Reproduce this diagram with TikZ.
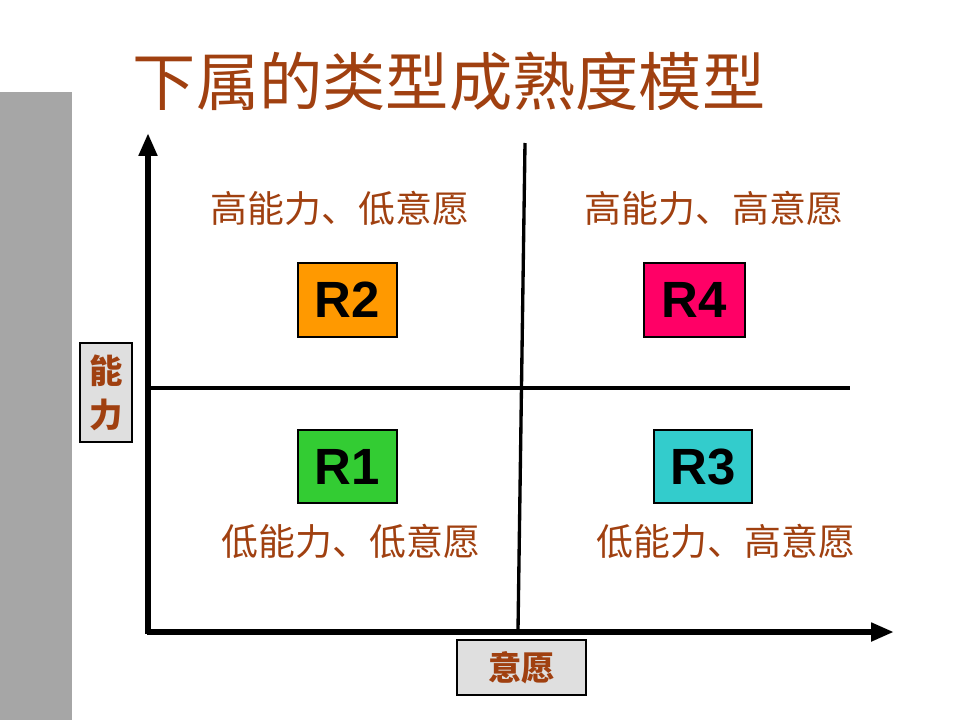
\documentclass[tikz,border=0pt]{standalone}
\usepackage{fontspec}
\setmainfont{Liberation Sans}
\newfontfamily\cjk{Noto Sans CJK SC}
\definecolor{QuadBrown}{RGB}{160,64,16}
\definecolor{QuadGray}{RGB}{166,166,166}
\definecolor{QuadOrange}{RGB}{255,153,0}
\definecolor{QuadPink}{RGB}{255,0,102}
\definecolor{QuadGreen}{RGB}{51,204,51}
\definecolor{QuadCyan}{RGB}{51,204,204}
\usetikzlibrary{arrows.meta}

\begin{document}
\begin{tikzpicture}[
    x=0.02cm, y=-0.02cm,
    level/.style={rectangle, draw=black, line width=0.6pt, font=\fontsize{29}{30}\selectfont\bfseries, text=black},
    quad/.style={font=\cjk\fontsize{21}{24}\selectfont, text=QuadBrown},
    axlabel/.style={rectangle, draw=black, line width=0.6pt, fill=gray!25, font=\cjk\fontsize{19}{22}\selectfont\bfseries, text=QuadBrown},
    axis/.style={line width=3.4pt, -{Triangle[length=13pt,width=10pt]}},
    divider/.style={line width=1.9pt}
]
    \useasboundingbox (0,0) rectangle (960,720);
    \fill[QuadGray] (0,92) rectangle (72,720);
    \node[font=\cjk\fontsize{36}{40}\selectfont, text=QuadBrown] (title) at (449,82) {下属的类型成熟度模型};
    % axes
    \coordinate (origin) at (148,632);
    \coordinate (ytop) at (148,133);
    \coordinate (xend) at (894,632);
    \draw[axis] (origin) ++(0,1.5) -- (ytop);
    \draw[axis] (origin) ++(-1.5,0) -- (xend);
    % quadrant lines
    \coordinate (vtop) at (525,143);
    \coordinate (vbot) at (518,630);
    \coordinate (hleft) at (148,388);
    \coordinate (hright) at (850,388);
    \draw[divider] (vtop) -- (vbot);
    \draw[divider] (hleft) -- (hright);
    % levels
    \node[level, fill=QuadOrange, minimum width=1.98cm, minimum height=1.48cm] (r2) at (347.5,300) {R2};
    \node[level, fill=QuadPink, minimum width=2.02cm, minimum height=1.48cm] (r4) at (694.5,300) {R4};
    \node[level, fill=QuadGreen, minimum width=1.98cm, minimum height=1.46cm] (r1) at (347.5,466.5) {R1};
    \node[level, fill=QuadCyan, minimum width=1.96cm, minimum height=1.46cm] (r3) at (703,466.5) {R3};
    % quadrant texts
    \node[quad] (q2) at (340,208) {高能力、低意愿};
    \node[quad] (q4) at (714,208) {高能力、高意愿};
    \node[quad] (q1) at (351,541) {低能力、低意愿};
    \node[quad] (q3) at (726,541) {低能力、高意愿};
    % axis labels
    \node[axlabel, minimum width=1.04cm, minimum height=1.98cm, align=center, inner sep=0pt] (abil) at (106,392.5) {能\\[3pt]力};
    \node[axlabel, minimum width=2.58cm, minimum height=1.1cm] (will) at (521.5,667.5) {意愿};
\end{tikzpicture}
\end{document}
